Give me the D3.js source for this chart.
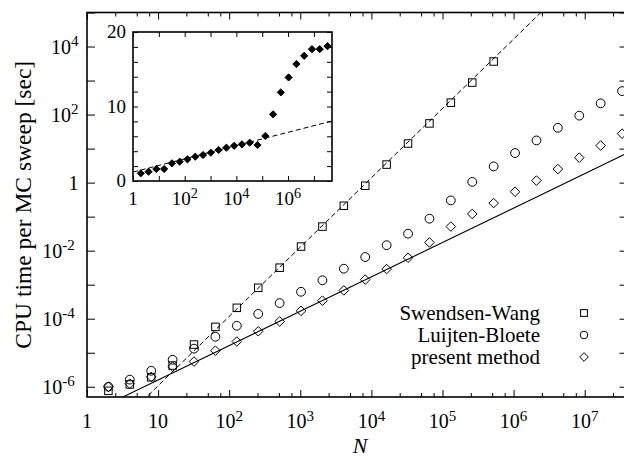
<!DOCTYPE html>
<html><head><meta charset="utf-8">
<script src="https://cdn.jsdelivr.net/npm/d3@7"></script>
<style>
body{margin:0;background:#fff}
svg{display:block}
text{font-family:"Liberation Serif","Times New Roman",serif;fill:#000}
</style>
</head><body>
<svg id="c" width="624" height="460"></svg>
<script>
// ---------- data ----------
const sizes = [2,4,8,16,32,64,128,256,512,1024,2048,4096,8192,16384,32768,65536,131072,262144,524288,1048576,2097152,4194304,8388608,16777216,33554432];
const swendsenWang = [7.6e-7,1.17e-6,1.9e-6,4.2e-6,1.74e-5,5.75e-5,2.09e-4,8.1e-4,3.16e-3,1.32e-2,5.1e-2,0.209,0.81,3.39,14.1,55,224,871,3630];
const luijtenBloete = [1.0e-6,1.62e-6,2.95e-6,6.2e-6,1.32e-5,2.95e-5,6.2e-5,1.38e-4,2.88e-4,6.2e-4,1.35e-3,2.95e-3,6.5e-3,1.45e-2,3.16e-2,8.7e-2,0.30,1.05,3.0,7.4,17.4,40.7,93,214,490];
const presentMethod = [1.0e-6,1.23e-6,1.95e-6,3.9e-6,5.5e-6,1.15e-5,2.14e-5,4.27e-5,8.3e-5,1.7e-4,3.39e-4,6.8e-4,1.41e-3,2.88e-3,6.2e-3,1.74e-2,5.1e-2,0.12,0.25,0.54,1.15,2.5,5.4,12.3,27.5];
const ratio = [1.03,1.25,1.61,1.61,2.37,2.59,2.91,3.26,3.49,3.80,4.16,4.47,4.72,4.92,5.14,4.83,6.04,8.95,11.9,13.9,15.7,16.8,17.7,17.7,18.1];
const swFit = [[5,2.6e-7],[3e6,1.55e5]];      // dashed fit line end points (N, time)
const pmFit = [[2.5,3.9e-7],[4e7,7.4]];        // solid fit line end points
const ratioFit = [[1,1.2],[5e7,8.05]];         // inset dashed line end points
const legendLabels = ["Swendsen-Wang","Luijten-Bloete","present method"];
const xTickExps = [0,1,2,3,4,5,6,7];
const yTickExps = [-6,-5,-4,-3,-2,-1,0,1,2,3,4,5];
const yLabelExps = [-6,-4,-2,0,2,4];
const insetXExps = [0,1,2,3,4,5,6,7];
const insetXLabelExps = [0,2,4,6];
const insetYTicks = [0,2,4,6,8,10,12,14,16,18,20];
const insetYLabels = [0,10,20];
const xTitle = "N", yTitle = "CPU time per MC sweep [sec]";

// ---------- layout ----------
const svg = d3.select("#c");
const L = 87, R = 627.5, T = 12.5, B = 397;
const x = d3.scaleLog().domain([1, 4e7]).range([L, R]);
const y = d3.scaleLog().domain([5e-7, 1e5]).range([B, T]);

svg.append("defs").append("clipPath").attr("id","clipMain")
  .append("rect").attr("x",L).attr("y",T).attr("width",R-L).attr("height",B-T);

function supLabel(sel, exp) {
  if (exp === 0) { sel.text("1"); return; }
  if (exp === 1) { sel.text("10"); return; }
  sel.append("tspan").text("10");
  sel.append("tspan").attr("font-size","0.75em").attr("dy","-0.5em").text(String(exp));
}

// x ticks
const minorMult = [2.5,5,7.5];
const xMajor = xTickExps.map(e => Math.pow(10,e));
const xMinor = [];
xTickExps.forEach(e => minorMult.forEach(m => { const v = m*Math.pow(10,e); if (v < 4e7) xMinor.push(v); }));
const tickG = svg.append("g").attr("stroke","#000").attr("stroke-width",1);
function drawAxis(axis, tr) {
  const g = svg.append("g").attr("transform", tr).call(axis);
  g.select(".domain").remove();
  g.selectAll("line").attr("stroke","#000").attr("stroke-width",1);
  g.selectAll("text").remove();
  return g;
}
drawAxis(d3.axisBottom(x).tickValues(xMajor).tickSize(-7).tickSizeOuter(0), `translate(0,${B})`);
drawAxis(d3.axisBottom(x).tickValues(xMinor).tickSize(-4).tickSizeOuter(0), `translate(0,${B})`);
drawAxis(d3.axisTop(x).tickValues(xMajor).tickSize(-7).tickSizeOuter(0), `translate(0,${T})`);
drawAxis(d3.axisTop(x).tickValues(xMinor).tickSize(-4).tickSizeOuter(0), `translate(0,${T})`);
const yMajor = yTickExps.map(e => Math.pow(10,e));
drawAxis(d3.axisLeft(y).tickValues(yMajor).tickSize(-8).tickSizeOuter(0), `translate(${L},0)`);
drawAxis(d3.axisRight(y).tickValues(yMajor).tickSize(-8).tickSizeOuter(0), `translate(${R},0)`);

// frame
svg.append("rect").attr("x",L).attr("y",T).attr("width",R-L).attr("height",B-T)
  .attr("fill","none").attr("stroke","#000").attr("stroke-width",1.6);

// x labels
svg.append("g").selectAll("text").data(xTickExps).join("text")
  .attr("x", e => x(Math.pow(10,e))).attr("y", 428)
  .attr("text-anchor","middle").attr("font-size",20)
  .each(function(e){ supLabel(d3.select(this), e); });
// y labels
svg.append("g").selectAll("text").data(yLabelExps).join("text")
  .attr("x", e => (e === 0 ? 68.5 : 77 - 8.7*(2 + String(e).length))).attr("y", e => y(Math.pow(10,e)) + 7)
  .attr("text-anchor","start").attr("font-size",20)
  .each(function(e){ supLabel(d3.select(this), e); });

// titles
svg.append("text").attr("x",360).attr("y",453).attr("text-anchor","middle")
  .attr("font-size",22).attr("font-style","italic").text(xTitle);
svg.append("text").attr("transform",`translate(31,${(T+B)/2}) rotate(-90)`)
  .attr("text-anchor","middle").attr("font-size",23.5).text(yTitle);

// fit lines
const plot = svg.append("g").attr("clip-path","url(#clipMain)");
const lineGen = d3.line().x(d => x(d[0])).y(d => y(d[1]));
plot.append("path").attr("d", lineGen(swFit)).attr("fill","none").attr("stroke","#000")
  .attr("stroke-width",1).attr("stroke-dasharray","5,3");
plot.append("path").attr("d", lineGen(pmFit)).attr("fill","none").attr("stroke","#000")
  .attr("stroke-width",1.1);

// markers
const S = 7.5, CR = 4.4, DH = 4.8;
function squareAt(g, cx, cy, s) {
  g.append("rect").attr("x",cx-s/2).attr("y",cy-s/2).attr("width",s).attr("height",s)
    .attr("fill","none").attr("stroke","#000").attr("stroke-width",1);
}
function circleAt(g, cx, cy, r) {
  g.append("circle").attr("cx",cx).attr("cy",cy).attr("r",r)
    .attr("fill","none").attr("stroke","#000").attr("stroke-width",1);
}
function diamondAt(g, cx, cy, h, fill) {
  g.append("path").attr("d",`M${cx},${cy-h}L${cx+h},${cy}L${cx},${cy+h}L${cx-h},${cy}Z`)
    .attr("fill", fill || "none").attr("stroke","#000").attr("stroke-width",1);
}
const mk = svg.append("g");
swendsenWang.forEach((v,i) => squareAt(mk, x(sizes[i]), y(v), S));
luijtenBloete.forEach((v,i) => circleAt(mk, x(sizes[i]), y(v), CR));
presentMethod.forEach((v,i) => diamondAt(mk, x(sizes[i]), y(v), DH));

// legend
const legY = [313, 335, 357];
const lg = svg.append("g");
legendLabels.forEach((t,i) => {
  lg.append("text").attr("x",540).attr("y",legY[i]+7).attr("text-anchor","end")
    .attr("font-size",21).text(t);
});
squareAt(lg, 584, legY[0], 6.8);
circleAt(lg, 584, legY[1], 3.8);
diamondAt(lg, 584, legY[2], 4.3);

// ---------- inset ----------
const iL = 133, iR = 332, iT = 32, iB = 181;
const xi = d3.scaleLog().domain([1, 5e7]).range([iL, iR]);
const yi = d3.scaleLinear().domain([0, 20]).range([iB, iT]);
svg.append("defs").append("clipPath").attr("id","clipIn")
  .append("rect").attr("x",iL).attr("y",iT).attr("width",iR-iL).attr("height",iB-iT);
svg.append("rect").attr("x",iL).attr("y",iT).attr("width",iR-iL).attr("height",iB-iT).attr("fill","#fff");
const ixT = insetXExps.map(e => Math.pow(10,e));
drawAxis(d3.axisBottom(xi).tickValues(ixT).tickSize(-5).tickSizeOuter(0), `translate(0,${iB})`);
drawAxis(d3.axisTop(xi).tickValues(ixT).tickSize(-5).tickSizeOuter(0), `translate(0,${iT})`);
drawAxis(d3.axisLeft(yi).tickValues(insetYTicks).tickSize(-5).tickSizeOuter(0), `translate(${iL},0)`);
drawAxis(d3.axisRight(yi).tickValues(insetYTicks).tickSize(-5).tickSizeOuter(0), `translate(${iR},0)`);
svg.append("rect").attr("x",iL).attr("y",iT).attr("width",iR-iL).attr("height",iB-iT)
  .attr("fill","none").attr("stroke","#000").attr("stroke-width",1.6);
svg.append("g").selectAll("text").data(insetYLabels).join("text")
  .attr("x",126).attr("y", d => yi(d)+6).attr("text-anchor","end").attr("font-size",19).text(d => d);
svg.append("g").selectAll("text").data(insetXLabelExps).join("text")
  .attr("x", e => xi(Math.pow(10,e))).attr("y", 205).attr("text-anchor","middle").attr("font-size",19)
  .each(function(e){ supLabel(d3.select(this), e); });
const ip = svg.append("g").attr("clip-path","url(#clipIn)");
ip.append("path").attr("d", d3.line().x(d => xi(d[0])).y(d => yi(d[1]))(ratioFit))
  .attr("fill","none").attr("stroke","#000").attr("stroke-width",1).attr("stroke-dasharray","5,3");
ratio.forEach((v,i) => diamondAt(svg, xi(sizes[i]), yi(v), 3.6, "#000"));
</script>
</body></html>
